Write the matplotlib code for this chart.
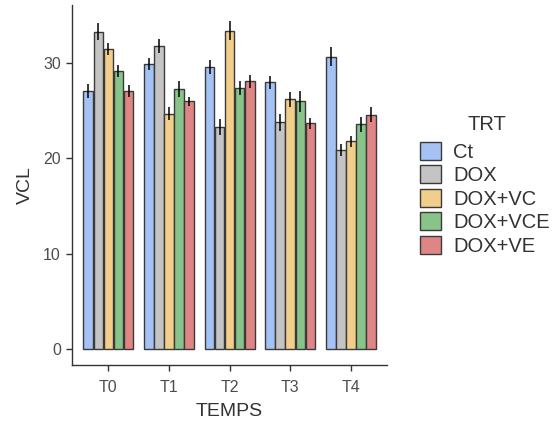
import numpy as np
import matplotlib.pyplot as plt
from matplotlib.patches import Patch

plt.rcParams['font.family'] = ['Liberation Sans', 'DejaVu Sans']

temps = ['T0', 'T1', 'T2', 'T3', 'T4']
trt = ['Ct', 'DOX', 'DOX+VC', 'DOX+VCE', 'DOX+VE']

# mean VCL per treatment, one value per time point
vcl = {
    'Ct':      [27.1, 29.9, 29.6, 28.0, 30.7],
    'DOX':     [33.3, 31.8, 23.3, 23.8, 20.9],
    'DOX+VC':  [31.5, 24.7, 33.4, 26.2, 21.8],
    'DOX+VCE': [29.2, 27.3, 27.4, 26.0, 23.6],
    'DOX+VE':  [27.1, 26.0, 28.1, 23.7, 24.6],
}
err = {
    'Ct':      [0.7, 0.6, 0.7, 0.7, 1.0],
    'DOX':     [0.9, 0.7, 0.8, 0.9, 0.6],
    'DOX+VC':  [0.6, 0.7, 1.0, 0.8, 0.6],
    'DOX+VCE': [0.6, 0.8, 0.7, 1.1, 0.8],
    'DOX+VE':  [0.6, 0.5, 0.7, 0.6, 0.8],
}
colors = ['#A4C2F4', '#C4C4C4', '#F1CE8A', '#88C48A', '#E08585']

fig = plt.figure(figsize=(5.56, 4.32), dpi=100)
ax = fig.add_axes([0.1295, 0.155, 0.567, 0.833])

x = np.arange(len(temps))
group_w = 0.83
bw = group_w / len(trt)
for i, t in enumerate(trt):
    pos = x - group_w / 2 + bw * (i + 0.5)
    ax.bar(pos, vcl[t], width=bw * 0.95, color=colors[i],
           edgecolor='#3a3a3a', linewidth=1.0)
    ax.errorbar(pos, vcl[t], yerr=err[t], fmt='none', ecolor='black',
                elinewidth=1.1, capsize=0)

ax.set_xlim(-0.6, 4.6)
ax.set_ylim(-1.7, 36.1)
ax.set_xticks(x)
ax.set_xticklabels(temps)
ax.set_yticks([0, 10, 20, 30])

for s in ['top', 'right']:
    ax.spines[s].set_visible(False)
for s in ['left', 'bottom']:
    ax.spines[s].set_color('#333333')
    ax.spines[s].set_linewidth(1.0)
ax.tick_params(colors='#333333', labelcolor='#4d4d4d', labelsize=11.5,
               length=4.5, width=1.0)
ax.tick_params(axis='x', pad=6)

ax.set_xlabel('TEMPS', fontsize=14, color='#333333', labelpad=6)
ax.set_ylabel('VCL', fontsize=14, color='#333333', labelpad=7)

# legend (title drawn separately to get the ggplot-like gap)
handles = [Patch(facecolor=c, edgecolor='#3a3a3a', linewidth=1.0) for c in colors]
leg = fig.legend(handles, trt, loc='upper left',
                 bbox_to_anchor=(0.755, 0.672), frameon=False,
                 fontsize=14.5,
                 handlelength=1.05, handleheight=1.0,
                 handletextpad=0.6, labelspacing=0.18,
                 borderpad=0.0, borderaxespad=0.0)
for txt in leg.get_texts():
    txt.set_color('#333333')
fig.text(0.876, 0.711, 'TRT', fontsize=14.5, color='#333333',
         ha='center', va='center')

fig.savefig('out.png', dpi=100)
